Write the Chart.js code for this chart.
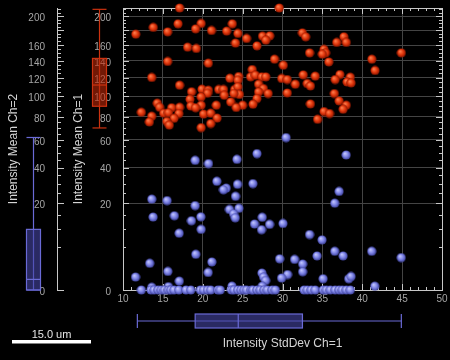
<!DOCTYPE html>
<html>
<head>
<meta charset="utf-8">
<title>Intensity Mean vs StdDev</title>
<script src="https://cdn.jsdelivr.net/npm/chart.js@4.4.1/dist/chart.umd.min.js"></script>
<style>
  html, body { margin: 0; padding: 0; background: #000; }
  canvas { display: block; }
</style>
</head>
<body>
<canvas id="myChart" width="450" height="360"></canvas>
<script>
// axes
const xRange = [10, 50];
const yRange = [0, 212];
const xTicks = [10, 15, 20, 25, 30, 35, 40, 45, 50];
const yTicks = [0, 20, 40, 60, 80, 100, 120, 140, 160, 180, 200];
const yTickLabels = ['0', '20', '40', '60', '80', '100', '120', '140', '160', '', '200'];

// [StdDev Ch=1, Mean Ch=1]
const ch1Points = [
    [17.1, 212], [29.6, 212], [11.6, 174.5], [13.8, 183.8], [15.6, 177.7], [16.9, 188.9],
    [19.8, 189.4], [19.1, 181.8], [21.1, 179.6], [23.7, 188.9], [23.0, 178.7], [24.4, 175.5],
    [27.5, 171.8], [28.4, 172.2], [27.9, 166.4], [25.5, 168.7], [24.1, 162.5], [26.8, 158.9],
    [18.1, 157.2], [19.2, 155.5], [15.6, 139.2], [20.7, 137.2], [29.0, 142.0], [30.1, 134.7],
    [13.6, 120.4], [17.1, 111.8], [18.6, 104.8], [19.9, 107.5], [20.7, 106.4], [20.6, 103.2],
    [22.0, 107.2], [22.6, 107.2], [23.4, 119.6], [24.5, 121.5], [24.4, 117.3], [26.2, 129.6],
    [26.0, 121.1], [26.6, 123.0], [27.4, 121.1], [27.9, 121.1], [29.9, 119.3], [27.0, 112.9],
    [27.6, 108.2], [28.2, 102.9], [27.0, 104.6], [26.8, 97.7], [26.3, 92.0], [24.0, 107.2],
    [24.4, 110.0], [24.6, 101.9], [23.9, 102.9], [22.7, 101.1], [23.5, 94.3], [21.7, 91.0],
    [25.0, 91.0], [24.2, 88.8], [19.8, 99.4], [18.4, 97.0], [19.8, 91.0], [18.5, 90.2],
    [19.1, 88.6], [14.3, 93.0], [14.6, 89.0], [12.3, 84.2], [13.6, 80.5], [13.3, 75.3],
    [15.1, 83.3], [16.1, 88.6], [17.1, 89.0], [17.0, 83.0], [15.7, 83.8], [16.4, 78.6],
    [15.5, 75.7], [15.8, 72.5], [20.1, 82.5], [21.0, 83.3], [21.8, 78.8], [21.0, 73.9],
    [19.8, 70.3],
    [32.5, 176.3], [32.9, 170.9], [37.7, 170.9], [36.8, 163.4], [38.0, 163.4], [35.2, 154.3],
    [35.4, 149.9], [35.0, 148.3], [33.4, 149.9], [35.8, 138.7], [44.9, 149.9], [41.2, 142.0],
    [41.6, 128.5], [32.6, 123.4], [34.1, 121.9], [30.6, 118.1], [31.6, 112.9], [33.1, 113.7],
    [33.5, 111.0], [37.2, 123.8], [36.6, 118.1], [38.5, 120.7], [38.1, 115.4], [38.6, 114.3],
    [30.6, 103.5], [36.5, 102.9], [37.1, 95.3], [33.5, 92.3], [38.0, 91.0], [37.6, 87.1],
    [35.2, 84.9], [35.9, 83.0], [34.4, 77.7]
];

// [StdDev Ch=1, Mean Ch=2]
const ch2Points = [
    [30.45, 61.9], [26.8, 49.6], [19.05, 44.8], [20.72, 42.6], [24.28, 45.5], [37.98, 48.6],
    [37.1, 25.9], [36.55, 20.1], [21.77, 31.5], [22.94, 27.7], [22.6, 26.8], [24.36, 29.8],
    [26.29, 30.2], [24.11, 23.4], [13.61, 22.0], [15.53, 21.3], [19.05, 19.0], [23.35, 17.3],
    [24.53, 17.8], [23.86, 15.5], [24.07, 13.9], [13.77, 14.2], [16.44, 14.7], [18.58, 12.8],
    [19.76, 14.3], [19.8, 9.8], [27.46, 14.1], [26.49, 11.6], [28.38, 11.5], [27.37, 9.7],
    [30.06, 11.8], [17.04, 8.6], [33.4, 8.2], [34.96, 6.7], [36.55, 4.0], [37.6, 3.1],
    [34.33, 3.1], [41.19, 4.0], [44.89, 2.8], [19.13, 3.4], [13.35, 1.9], [21.14, 2.1],
    [29.64, 2.6], [31.52, 2.5], [32.53, 1.8], [32.53, 0.89], [30.64, 0.64], [29.89, 0.38],
    [35.09, 0.34], [38.3, 0.34], [38.6, 0.49], [41.57, 0.04], [11.57, 0.45], [15.62, 0.92],
    [20.68, 0.82], [17.06, 0.21], [27.42, 0.77], [27.63, 0.45], [27.88, 0.24], [13.61, 0.02],
    [15.69, 0.03], [23.66, 0.04], [27.46, 0.04]
];
// objects with Mean Ch=2 = 0
const ch2ZeroX = [
    12.3, 13.5, 13.9, 14.4, 14.8, 15.2, 15.7, 16.0, 16.4, 17.0, 17.9, 18.5, 19.7, 20.1, 20.6,
    21.0, 21.9, 22.2, 23.6, 23.9, 24.4, 24.8, 25.2, 25.5, 26.1, 26.3, 26.8, 27.2, 27.7, 28.1,
    28.7, 29.1, 32.7, 33.1, 33.6, 34.1, 35.1, 35.5, 36.0, 36.6, 37.1, 37.5, 38.0, 38.5
];

// box plots: [min, q1, median, q3, max]
const ch1Box = [70, 90, 112, 143, 210];
const ch2Box = [0, 0, 0.3, 9.8, 62];
const stdDevBox = [11.8, 19.05, 24.45, 32.5, 44.9];

const scaleBarLabel = '15.0 um';

const AXIS = '#c8c8c8';
const GRID = '#444444';
const TICK = '#a6a6a6';
const TITLE = '#d4d4d4';

Chart.defaults.font.family = "'Liberation Sans', Arial, sans-serif";

// square-root value axis
class SqrtScale extends Chart.LinearScale {
    static id = 'sqrt';
    buildTicks() {
        return yTicks.map(v => ({ value: v }));
    }
    getPixelForValue(value) {
        const lo = Math.sqrt(this.min);
        const hi = Math.sqrt(this.max);
        return this.getPixelForDecimal((Math.sqrt(Math.max(value, 0)) - lo) / (hi - lo));
    }
    getValueForPixel(pixel) {
        const lo = Math.sqrt(this.min);
        const hi = Math.sqrt(this.max);
        const s = lo + this.getDecimalForPixel(pixel) * (hi - lo);
        return s * s;
    }
}
Chart.register(SqrtScale);

function makeBall(light, mid, dark) {
    const c = document.createElement('canvas');
    c.width = 10;
    c.height = 10;
    const g = c.getContext('2d');
    const grad = g.createRadialGradient(3.6, 3.4, 0.3, 5, 5, 4.8);
    grad.addColorStop(0, light);
    grad.addColorStop(0.55, mid);
    grad.addColorStop(1, dark);
    g.fillStyle = grad;
    g.beginPath();
    g.arc(5, 5, 4.6, 0, Math.PI * 2);
    g.fill();
    return c;
}

const redBall = makeBall('#ff8050', '#e0340a', '#7a1200');
const blueBall = makeBall('#c4c8ff', '#7a80e4', '#383c94');

function line(ctx, x1, y1, x2, y2) {
    ctx.beginPath();
    ctx.moveTo(x1, y1);
    ctx.lineTo(x2, y2);
    ctx.stroke();
}

function drawBoxV(ctx, scale, cx, stats, stroke, fill) {
    const [lo, q1, med, q3, hi] = stats.map(v => scale.getPixelForValue(v));
    const w = 14;
    ctx.strokeStyle = stroke;
    ctx.lineWidth = 1.2;
    line(ctx, cx, hi, cx, lo);
    line(ctx, cx - w / 2, hi, cx + w / 2, hi);
    line(ctx, cx - w / 2, lo, cx + w / 2, lo);
    ctx.fillStyle = fill;
    ctx.fillRect(cx - w / 2, q3, w, q1 - q3);
    ctx.strokeRect(cx - w / 2, q3, w, q1 - q3);
    line(ctx, cx - w / 2, med, cx + w / 2, med);
}

function drawBoxH(ctx, scale, cy, stats, stroke, fill) {
    const [lo, q1, med, q3, hi] = stats.map(v => scale.getPixelForValue(v));
    const h = 14;
    ctx.strokeStyle = stroke;
    ctx.lineWidth = 1.2;
    line(ctx, lo, cy, hi, cy);
    line(ctx, lo, cy - h / 2, lo, cy + h / 2);
    line(ctx, hi, cy - h / 2, hi, cy + h / 2);
    ctx.fillStyle = fill;
    ctx.fillRect(q1, cy - h / 2, q3 - q1, h);
    ctx.strokeRect(q1, cy - h / 2, q3 - q1, h);
    line(ctx, med, cy - h / 2, med, cy + h / 2);
}

const decorations = {
    id: 'decorations',
    beforeDraw(chart) {
        const ctx = chart.ctx;
        ctx.save();
        ctx.fillStyle = '#000';
        ctx.fillRect(0, 0, chart.width, chart.height);
        ctx.restore();
    },
    beforeDatasetsDraw(chart) {
        const { ctx, chartArea: a, scales: { x, y, y2 } } = chart;
        ctx.save();
        ctx.strokeStyle = AXIS;
        ctx.lineWidth = 1;
        // top and right frame
        line(ctx, a.left, a.top + 0.5, a.right + 0.5, a.top + 0.5);
        line(ctx, a.right + 0.5, a.top, a.right + 0.5, a.bottom);
        // inner ticks along x
        for (let v = xRange[0]; v <= xRange[1]; v += 1) {
            const px = Math.round(x.getPixelForValue(v)) + 0.5;
            const len = v % 5 === 0 ? 6 : 3;
            line(ctx, px, a.bottom, px, a.bottom - len);
            line(ctx, px, a.top, px, a.top + len);
        }
        // inner ticks along y, plus the Ch=2 ruler
        for (let v = yRange[0]; v <= yRange[1]; v += 5) {
            const py = Math.round(y.getPixelForValue(v)) + 0.5;
            const len = v % 20 === 0 ? 6 : 3;
            line(ctx, a.left, py, a.left + len, py);
            line(ctx, a.right, py, a.right - len, py);
            line(ctx, y2.right, py, y2.right + len + 1, py);
        }
        ctx.restore();
    },
    afterDraw(chart) {
        const { ctx, scales: { x, y, y2 } } = chart;
        ctx.save();
        drawBoxV(ctx, y2, y2.right - 23.5, ch2Box, '#6a6ad6', 'rgba(70, 70, 165, 0.6)');
        drawBoxV(ctx, y, y.right - 23.5, ch1Box, '#cc3210', 'rgba(190, 40, 8, 0.6)');
        drawBoxH(ctx, x, x.top + 31, stdDevBox, '#6a6ad6', 'rgba(70, 70, 165, 0.6)');

        // scale bar
        ctx.fillStyle = '#ffffff';
        ctx.fillRect(12, 340, 79, 3.5);
        ctx.fillStyle = '#e6e6e6';
        ctx.font = "11px 'Liberation Sans', Arial, sans-serif";
        ctx.textAlign = 'center';
        ctx.textBaseline = 'alphabetic';
        ctx.fillText(scaleBarLabel, 51.5, 338);
        ctx.restore();
    }
};

const sqrtAxis = (title, titlePad, width, weight, onArea) => ({
    type: 'sqrt',
    position: 'left',
    min: yRange[0],
    max: yRange[1],
    weight: weight,
    grid: { color: GRID, drawTicks: false, drawOnChartArea: onArea },
    border: { color: AXIS, width: 1 },
    ticks: {
        color: TICK,
        font: { size: 10 },
        padding: 12,
        labelOffset: 2,
        autoSkip: false,
        callback: (v, i) => yTickLabels[i]
    },
    title: {
        display: true,
        text: title,
        color: TITLE,
        font: { size: 12 },
        padding: { top: titlePad, bottom: 0 }
    },
    afterFit: s => {
        s.width = width;
        s.paddingTop = 0;
        s.paddingBottom = 0;
    }
});

new Chart(document.getElementById('myChart'), {
    type: 'scatter',
    data: {
        datasets: [
            {
                label: 'Intensity Mean Ch=1',
                data: ch1Points.map(([px, py]) => ({ x: px, y: py })),
                yAxisID: 'y',
                pointStyle: redBall,
                pointRadius: 4.5,
                clip: false
            },
            {
                label: 'Intensity Mean Ch=2',
                data: ch2Points.concat(ch2ZeroX.map(v => [v, 0])).map(([px, py]) => ({ x: px, y: py })),
                yAxisID: 'y2',
                pointStyle: blueBall,
                pointRadius: 4.5,
                clip: false
            }
        ]
    },
    options: {
        responsive: false,
        animation: false,
        layout: { padding: { top: 8, right: 8, left: 0, bottom: 0 } },
        plugins: {
            legend: { display: false },
            tooltip: { enabled: false }
        },
        scales: {
            x: {
                type: 'linear',
                min: xRange[0],
                max: xRange[1],
                afterBuildTicks: s => { s.ticks = xTicks.map(v => ({ value: v })); },
                grid: { color: GRID, drawTicks: false },
                border: { color: AXIS, width: 1 },
                ticks: { color: TICK, font: { size: 10 }, padding: 3, maxRotation: 0, autoSkip: false },
                title: {
                    display: true,
                    text: 'Intensity StdDev Ch=1',
                    color: TITLE,
                    font: { size: 12 },
                    padding: { top: 0, bottom: 9 }
                },
                afterFit: s => {
                    s.height = 70;
                    s.paddingLeft = 0;
                    s.paddingRight = 0;
                }
            },
            y: sqrtAxis('Intensity Mean Ch=1', 14, 66, 0, true),
            y2: sqrtAxis('Intensity Mean Ch=2', 6, 57, 1, false)
        }
    },
    plugins: [decorations]
});
</script>
</body>
</html>
